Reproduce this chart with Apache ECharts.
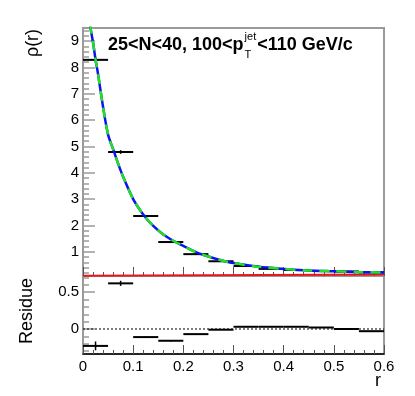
<!DOCTYPE html>
<html>
<head>
<meta charset="utf-8">
<script src="https://cdn.jsdelivr.net/npm/echarts@6/dist/echarts.min.js"></script>
<style>
  html, body { margin: 0; padding: 0; background: #fff; }
  #chart { width: 415px; height: 396px; }
</style>
</head>
<body>
<div id="chart"></div>
<script>
// bins in r
var binEdges = [0, 0.05, 0.1, 0.15, 0.2, 0.25, 0.3, 0.35, 0.4, 0.45, 0.5, 0.55, 0.6]
// rho(r) points
var rhoValues = [8.29, 4.79, 2.36, 1.37, 0.91, 0.64, 0.46, 0.35, 0.31, 0.27, 0.25, 0.22]
var rhoErrors = [0.1, 0.07, 0.04, 0.03, 0.02, 0.01, 0.01, 0.01, 0.01, 0.01, 0.01, 0.01]
// residue points
var residueValues = [-0.23, 0.62, -0.11, -0.16, -0.07, -0.01, 0.03, 0.03, 0.03, 0.02, 0.0, -0.03]
var residueErrors = [0.06, 0.035, 0.01, 0.01, 0.005, 0.005, 0.005, 0.005, 0.005, 0.005, 0.005, 0.005]
// fit curve
var curveR = [0.01, 0.015, 0.02, 0.025, 0.03, 0.04, 0.05, 0.06, 0.07, 0.08, 0.1, 0.12, 0.14, 0.16, 0.18, 0.2, 0.225, 0.25, 0.275, 0.3, 0.35, 0.4, 0.45, 0.5, 0.55, 0.6]
var curveRho = [10.3, 9.5, 8.95, 8.3, 7.75, 6.5, 5.45, 4.9, 4.35, 3.85, 3.0, 2.42, 1.98, 1.66, 1.42, 1.22, 0.99, 0.82, 0.68, 0.57, 0.43, 0.35, 0.29, 0.26, 0.23, 0.21]
// red line (background)
var redLine = [[0, 0.09], [0.6, 0.14]]
var zeroLine = [[0, 0], [0.6, 0]]
// tick labels
var xTicks = [0, 0.1, 0.2, 0.3, 0.4, 0.5, 0.6]
var rhoTicks = [1, 2, 3, 4, 5, 6, 7, 8, 9]
var resTicks = [0, 0.5]

var FONT = 'Liberation Sans, Arial, Helvetica, sans-serif'
var GRAY = '#9a9a9a'

function minorList(lo, hi, step) {
  var out = []
  for (var v = lo; v <= hi + 1e-9; v += step) out.push(Math.round(v * 1000) / 1000)
  return out
}

function binData(vals, errs) {
  return vals.map(function (v, i) { return [binEdges[i], binEdges[i + 1], v, errs[i]] })
}

function errRender(params, api) {
  var lo = api.value(0), hi = api.value(1), y = api.value(2), e = api.value(3)
  var p1 = api.coord([lo, y]), p2 = api.coord([hi, y])
  var pc = api.coord([(lo + hi) / 2, y])
  var pt = api.coord([(lo + hi) / 2, y + e]), pb = api.coord([(lo + hi) / 2, y - e])
  var st = { stroke: '#000', lineWidth: 2 }
  return {
    type: 'group',
    children: [
      { type: 'line', shape: { x1: p1[0], y1: p1[1], x2: p2[0], y2: p2[1] }, style: st },
      { type: 'line', shape: { x1: pc[0], y1: pt[1], x2: pc[0], y2: pb[1] }, style: { stroke: '#000', lineWidth: 1.5 } }
    ]
  }
}

var yMin = 0.08, yMax = 9.5
var rMin = -0.34, rMax = 0.72

function xAxisCfg(grid, showLabel) {
  return {
    type: 'value', gridIndex: grid, min: 0, max: 0.6, interval: 0.1,
    axisLine: { show: true, onZero: false, lineStyle: { color: showLabel ? '#000' : GRAY, width: 1.5 } },
    axisTick: { show: true, inside: true, length: 9, lineStyle: { color: '#555' } },
    minorTick: { show: true, splitNumber: 5, length: 4, lineStyle: { color: '#555' } },
    axisLabel: {
      show: showLabel, margin: 5, fontFamily: FONT, fontSize: 15, color: '#000',
      formatter: function (v) { return v === 0 ? '0' : v.toFixed(1) }
    },
    splitLine: { show: false }
  }
}

function yAxisCfg(grid, min, max, ticks, len, labels) {
  return {
    type: 'value', gridIndex: grid, min: min, max: max, position: 'left',
    axisLine: { show: true, onZero: false, lineStyle: { color: GRAY, width: 2 } },
    axisTick: { show: true, inside: true, length: len, customValues: ticks, lineStyle: { color: GRAY, width: 1.5 } },
    axisLabel: labels ? {
      show: true, customValues: labels, margin: 4, fontFamily: FONT, fontSize: 15, color: '#000',
      formatter: function (v) { return String(v) }
    } : { show: false },
    splitLine: { show: false }
  }
}

var chart = echarts.init(document.getElementById('chart'), null, { renderer: 'canvas' })

// measure title pieces so sub/superscript sit right after the "p"
var ctx = document.createElement('canvas').getContext('2d')
ctx.font = 'bold 18px ' + FONT
var part1 = '25<N<40, 100<p'
var w1 = ctx.measureText(part1).width
ctx.font = '11px ' + FONT
var wJet = ctx.measureText('jet').width
var titleX = 108, titleY = 48

chart.setOption({
  animation: false,
  backgroundColor: '#fff',
  grid: [
    { left: 83, top: 28, width: 301, height: 248, show: true, borderColor: GRAY, borderWidth: 2, backgroundColor: 'transparent' },
    { left: 83, top: 276, width: 301, height: 78, show: true, borderColor: GRAY, borderWidth: 2, backgroundColor: 'transparent' }
  ],
  xAxis: [xAxisCfg(0, false), xAxisCfg(1, true)],
  yAxis: [
    yAxisCfg(0, yMin, yMax, rhoTicks, 12, rhoTicks),
    yAxisCfg(0, yMin, yMax, minorList(0.2, 9.4, 0.2), 6, null),
    yAxisCfg(1, rMin, rMax, resTicks, 12, resTicks),
    yAxisCfg(1, rMin, rMax, minorList(-0.3, 0.7, 0.1), 6, null)
  ],
  series: [
    {
      type: 'line', xAxisIndex: 0, yAxisIndex: 0, data: redLine, showSymbol: false, clip: false,
      lineStyle: { color: '#e8141e', width: 2 }, z: 3
    },
    {
      type: 'custom', xAxisIndex: 0, yAxisIndex: 0, renderItem: errRender,
      data: binData(rhoValues, rhoErrors), z: 4
    },
    {
      type: 'line', xAxisIndex: 0, yAxisIndex: 0, smooth: 0.3, showSymbol: false,
      data: curveR.map(function (r, i) { return [r, curveRho[i]] }),
      lineStyle: { color: '#1010f0', width: 2.5 }, z: 5
    },
    {
      type: 'line', xAxisIndex: 0, yAxisIndex: 0, smooth: 0.3, showSymbol: false,
      data: curveR.map(function (r, i) { return [r, curveRho[i]] }),
      lineStyle: { color: '#22e022', width: 2.5, type: [10, 7] }, z: 6
    },
    {
      type: 'line', xAxisIndex: 1, yAxisIndex: 2, data: zeroLine, showSymbol: false,
      lineStyle: { color: '#000', width: 1, type: [2, 2] }, z: 3
    },
    {
      type: 'custom', xAxisIndex: 1, yAxisIndex: 2, renderItem: errRender,
      data: binData(residueValues, residueErrors), z: 4
    }
  ],
  graphic: [
    { type: 'text', left: titleX, top: titleY - 12, style: { text: part1, font: 'bold 18px ' + FONT, fill: '#000' } },
    { type: 'text', left: titleX + w1 + 1, top: titleY - 17, style: { text: 'jet', font: '11px ' + FONT, fill: '#000' } },
    { type: 'text', left: titleX + w1 + 1, top: titleY + 1, style: { text: 'T', font: '11px ' + FONT, fill: '#000' } },
    { type: 'text', left: titleX + w1 + wJet + 2, top: titleY - 12, style: { text: '<110 GeV/c', font: 'bold 18px ' + FONT, fill: '#000' } },
    { type: 'text', x: 33, y: 43, rotation: Math.PI / 2, style: { text: 'ρ(r)', font: '18px ' + FONT, fill: '#000', align: 'center', verticalAlign: 'middle' } },
    { type: 'text', x: 27, y: 311, rotation: Math.PI / 2, style: { text: 'Residue', font: '18px ' + FONT, fill: '#000', align: 'center', verticalAlign: 'middle' } },
    { type: 'text', x: 378, y: 381, style: { text: 'r', font: '18px ' + FONT, fill: '#000', align: 'center', verticalAlign: 'middle' } }
  ]
})
</script>
</body>
</html>
